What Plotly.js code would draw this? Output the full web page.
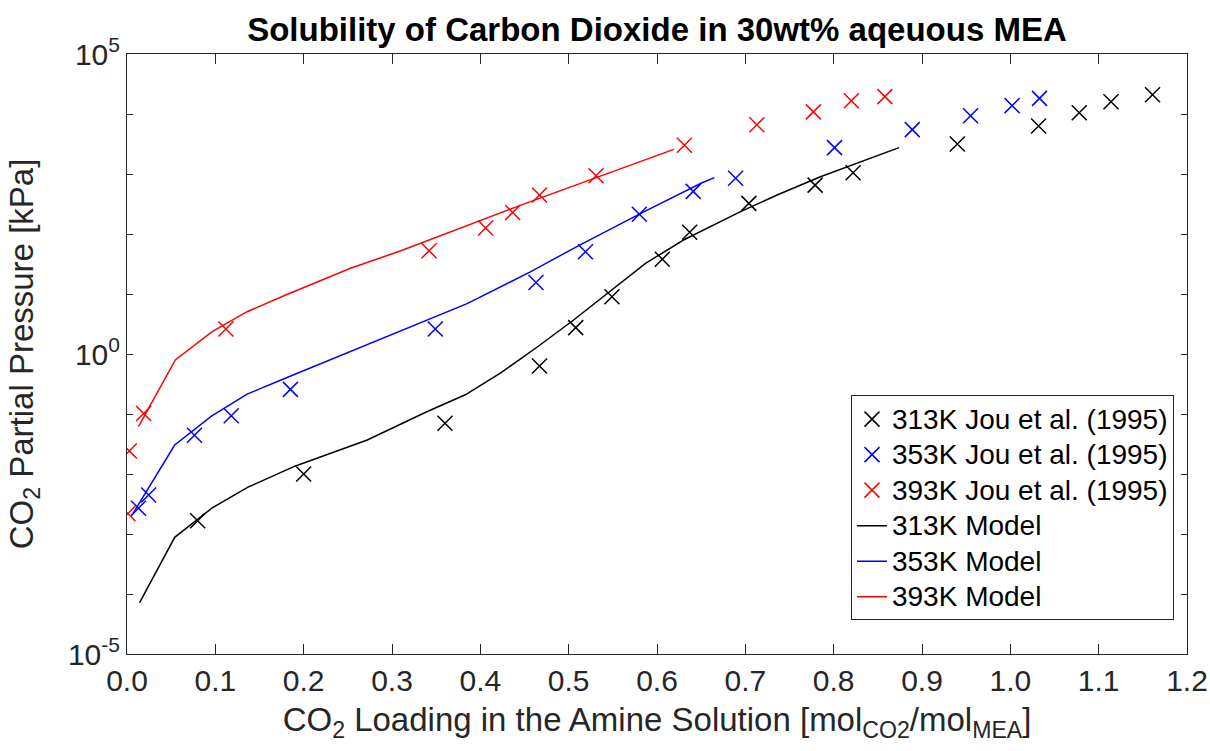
<!DOCTYPE html>
<html>
<head>
<meta charset="utf-8">
<script src="https://cdn.plot.ly/plotly-3.0.1.min.js"></script>
<style>html,body{margin:0;padding:0;background:#fff;}#chart{width:1210px;height:751px;}</style>
</head>
<body>
<div id="chart"></div>
<script>
// Experimental data, Jou et al. (1995): CO2 loading [mol CO2/mol MEA] and partial pressure [kPa]
const loading313 = [0.080, 0.200, 0.360, 0.467, 0.508, 0.549, 0.606, 0.637, 0.704, 0.779, 0.822, 0.940, 1.032, 1.078, 1.114, 1.161];
const pressure313 = [0.00166, 0.0100, 0.070, 0.631, 2.75, 9.02, 38.0, 107, 324, 653, 1047, 3162, 6310, 10470, 16030, 20890];

const loading353 = [0.013, 0.0245, 0.0764, 0.118, 0.185, 0.349, 0.463, 0.519, 0.580, 0.641, 0.689, 0.801, 0.889, 0.955, 1.002, 1.033];
const pressure353 = [0.00269, 0.00447, 0.0442, 0.0933, 0.257, 2.61, 15.5, 50.7, 214, 513, 851, 2754, 5495, 9333, 13800, 18200];

const loading393 = [0.001, 0.0026, 0.0188, 0.112, 0.342, 0.406, 0.4366, 0.467, 0.531, 0.631, 0.713, 0.777, 0.820, 0.858];
const pressure393 = [0.00219, 0.0242, 0.102, 2.61, 52.5, 126, 229, 447, 933, 3020, 6607, 10840, 16600, 19500];

// Model curves
const modelLoading313 = [0.0143, 0.054, 0.096, 0.137, 0.190, 0.272, 0.340, 0.383, 0.4226, 0.466, 0.5056, 0.5434, 0.587, 0.630, 0.664, 0.694, 0.736, 0.785, 0.874];
const modelPressure313 = [7.16e-5, 8.81e-4, 2.69e-3, 6.03e-3, 0.0135, 0.0369, 0.110, 0.209, 0.479, 1.36, 3.69, 10.2, 32.4, 79.4, 141, 234, 447, 902, 2754];

const modelLoading353 = [0.0057, 0.054, 0.096, 0.136, 0.175, 0.240, 0.309, 0.385, 0.4566, 0.513, 0.585, 0.651, 0.665];
const modelPressure353 = [2.07e-3, 0.0304, 0.0927, 0.214, 0.372, 0.912, 2.40, 6.92, 23.4, 66.1, 234, 716, 871];

const modelLoading393 = [0.013, 0.0547, 0.096, 0.136, 0.179, 0.253, 0.310, 0.4566, 0.619];
const modelPressure393 = [0.0617, 0.794, 2.34, 5.07, 9.55, 26.9, 52.5, 347, 2570];

// Series labels
const dataNames = ['313K Jou et al. (1995)', '353K Jou et al. (1995)', '393K Jou et al. (1995)'];
const modelNames = ['313K Model', '353K Model', '393K Model'];

// Y-axis labelled decades and unlabelled decade ticks
const yTickVals = [1e-5, 1e0, 1e5];
const yTickText = ['10<sup>-5</sup>', '10<sup>0</sup>', '10<sup>5</sup>'];
const yMinorVals = [1e-4, 1e-3, 1e-2, 1e-1, 1e1, 1e2, 1e3, 1e4];

const colors = ['#000000', '#0000ff', '#ff0000'];
const FONT = '"Liberation Sans", Arial, Helvetica, sans-serif';
const AXC = '#262626';

const dataX = [loading313, loading353, loading393];
const dataY = [pressure313, pressure353, pressure393];
const modX = [modelLoading313, modelLoading353, modelLoading393];
const modY = [modelPressure313, modelPressure353, modelPressure393];

const legendSpan = s => '<span style="font-size:28px">' + s + '</span>';

const traces = [];
for (let i = 0; i < 3; i++) {
  traces.push({
    x: dataX[i], y: dataY[i], type: 'scatter', mode: 'markers', name: legendSpan(dataNames[i]),
    marker: {symbol: 'x-thin', size: 15, color: colors[i], line: {color: colors[i], width: 1.5}}
  });
}
for (let i = 0; i < 3; i++) {
  traces.push({
    x: modX[i], y: modY[i], type: 'scatter', mode: 'lines', name: legendSpan(modelNames[i]),
    line: {color: colors[i], width: 1.5}
  });
}

const layout = {
  width: 1210, height: 751,
  margin: {l: 127, r: 23, t: 54, b: 97},
  paper_bgcolor: '#ffffff', plot_bgcolor: '#ffffff',
  font: {family: FONT, color: AXC, size: 30},
  title: {
    text: '<b>Solubility of Carbon Dioxide in 30wt% aqeuous MEA</b>',
    font: {family: FONT, size: 33, color: '#000000'},
    x: 0.5, xref: 'paper', y: 0.961, yref: 'container', yanchor: 'middle'
  },
  xaxis: {
    range: [0, 1.2], dtick: 0.1, tick0: 0, tickformat: '.1f',
    showline: true, linecolor: AXC, linewidth: 1, mirror: 'ticks',
    ticks: 'inside', ticklen: 10, tickcolor: AXC, tickwidth: 1,
    showgrid: false, zeroline: false,
    tickfont: {family: FONT, size: 30, color: AXC},
    title: {text: 'CO<sub>2</sub> Loading in the Amine Solution [mol<sub>CO2</sub>/mol<sub>MEA</sub>]',
            font: {family: FONT, size: 33, color: AXC}, standoff: 11}
  },
  yaxis: {
    type: 'log', range: [-5, 5], tickmode: 'array', tickvals: yTickVals, ticktext: yTickText,
    showline: true, linecolor: AXC, linewidth: 1, mirror: 'ticks',
    ticks: 'inside', ticklen: 6, tickcolor: AXC, tickwidth: 1,
    minor: {tickmode: 'array', tickvals: yMinorVals, ticks: 'inside', ticklen: 6, tickcolor: AXC, tickwidth: 1, showgrid: false},
    showgrid: false, zeroline: false,
    tickfont: {family: FONT, size: 30, color: AXC},
    title: {text: 'CO<sub>2</sub> Partial Pressure [kPa]',
            font: {family: FONT, size: 33, color: AXC}, standoff: 24}
  },
  legend: {
    x: 0.683, y: 0.431, xanchor: 'left', yanchor: 'top',
    bgcolor: '#ffffff', bordercolor: AXC, borderwidth: 1,
    font: {family: FONT, size: 25, color: '#000000'}
  },
  showlegend: true
};

Plotly.newPlot('chart', traces, layout, {displayModeBar: false, staticPlot: true});
</script>
</body>
</html>
